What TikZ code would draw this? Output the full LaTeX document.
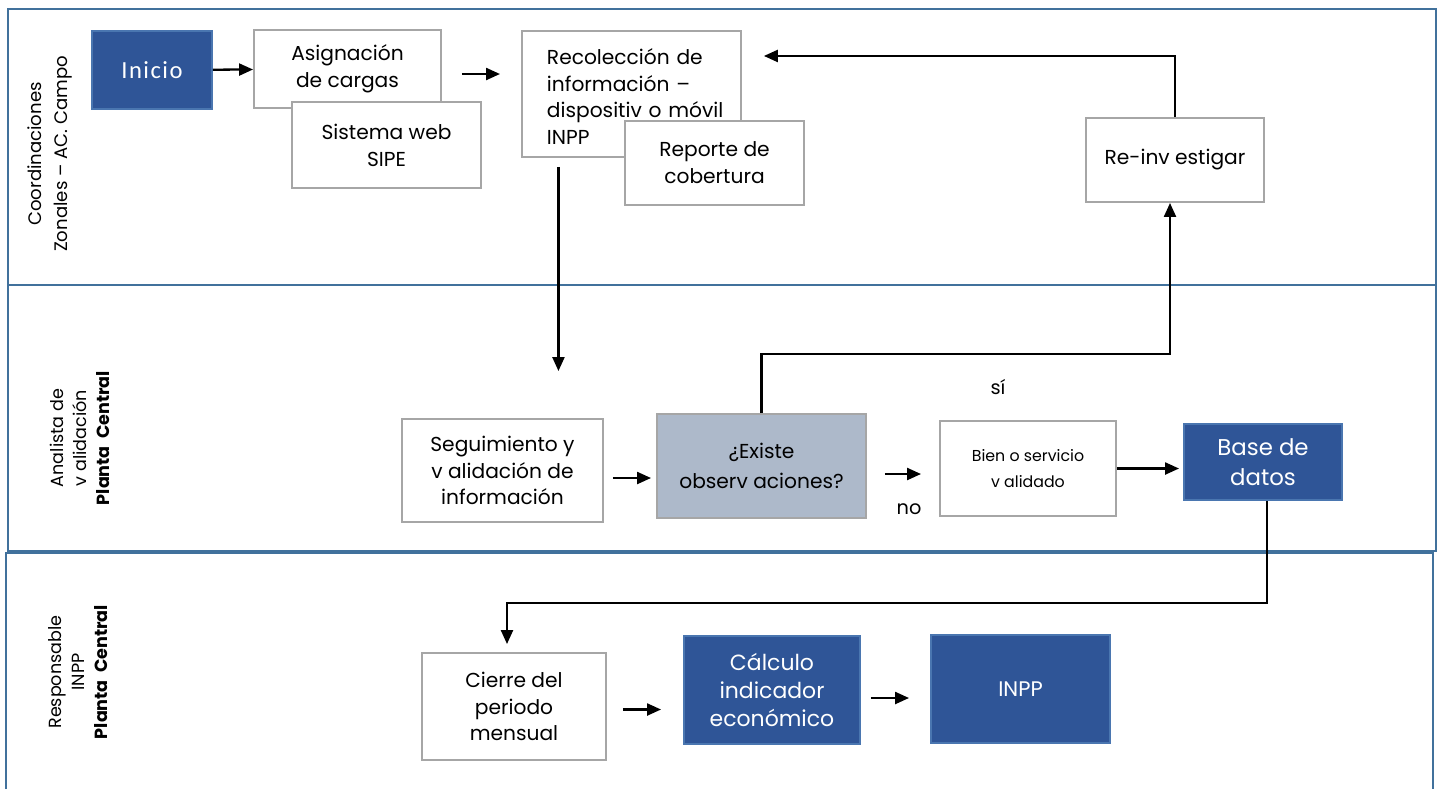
\documentclass[tikz,border=0pt]{standalone}
\usepackage{fontspec}
\setmainfont{Poppins}
\newfontfamily\inifont[LetterSpace=6]{Carlito}
\usetikzlibrary{arrows.meta}

\definecolor{lanec}{HTML}{41719C}
\definecolor{boxc}{HTML}{A6A6A6}
\definecolor{darkc}{HTML}{2F5597}
\definecolor{darkl}{HTML}{4A76B0}
\definecolor{askc}{HTML}{ADB9CA}

\tikzset{
  lane/.style={draw=lanec,line width=1.6pt},
  sz/.style 2 args={minimum width=#1*0.02cm,minimum height=#2*0.02cm},
  proc/.style={draw=boxc,fill=white,line width=1.1pt,align=center,inner sep=0pt,
    font=\fontsize{11.5}{15.3}\selectfont},
  dark/.style={proc,draw=darkl,fill=darkc,text=white},
  ask/.style={proc,fill=askc},
  lbl/.style={rotate=90,align=center,font=\fontsize{10.3}{14.5}\selectfont},
}

\begin{document}
\begin{tikzpicture}[x=0.02cm,y=-0.02cm,>={Triangle[length=0.28cm,width=0.24cm]},line width=1.3pt]
                \useasboundingbox (0,0) rectangle (1441,789);
                % carriles
                \draw[lane] (8,9) rectangle (1436,285);
                \draw[lane] (8,285) rectangle (1436,551);
                \draw[lane] (6,789) -- (6,553) -- (1433,553) -- (1433,789);
                \node[lbl](L1)at(50,154){Coordinaciones\\Zonales -- AC. Campo};
                \node[lbl,font=\fontsize{10}{13}\selectfont](L2)at(80,438){Analista de\\v alidación\\\textbf{Planta\ \ Central}};
                \node[lbl,font=\fontsize{10}{13}\selectfont](L3)at(78,672){Responsable\\INPP\\\textbf{Planta\ \ Central}};
                % carril 1
                \node[dark,sz={120}{78},font=\inifont\fontsize{14}{16}\selectfont](inicio)at(152,70){Inicio};
                \node[proc,sz={187}{78}](asig)at(347.5,69){Asignación\\de cargas};
                \node[proc,sz={189}{86}](sipe)at(386.5,145){Sistema web\\SIPE};
                \node[proc,sz={219}{126},align=left,anchor=north west,text width=4.1cm,inner sep=0pt,
                      minimum width=4.38cm](recol)at(521,30){\rule{0pt}{12pt}\hspace*{0.36cm}Recolección de\\\hspace*{0.36cm}información --\\\hspace*{0.36cm}dispositiv o móvil\\\hspace*{0.36cm}INPP};
                \node[proc,sz={179}{84}](reporte)at(714.5,163){Reporte de\\cobertura};
                \node[proc,sz={178}{84}](reinv)at(1175,160){Re-inv estigar};
                % carril 2
                \node[proc,sz={201}{103}](segui)at(502.5,470.5){Seguimiento y\\v alidación de\\información};
                \node[ask,sz={209}{104},font=\fontsize{11.5}{16.8}\selectfont](existe)at(761.5,466){¿Existe\\observ aciones?};
                \node[proc,sz={176}{95},font=\fontsize{9}{15.3}\selectfont](bien)at(1028,468.5){Bien o servicio\\v alidado};
                \node[dark,sz={158}{76},font=\fontsize{13}{16.8}\selectfont](base)at(1263,462){Base de\\datos};
                \node[font=\fontsize{11}{13}\selectfont](si)at(998,387){sí};
                \node[font=\fontsize{11}{13}\selectfont](no)at(909,509){no};
                % carril 3
                \node[proc,sz={184}{107}](cierre)at(514,706.5){Cierre del\\periodo\\mensual};
                \node[dark,sz={176}{108},font=\fontsize{12.5}{16}\selectfont](calc)at(772,690){Cálculo\\indicador\\económico};
                \node[dark,sz={179}{108},font=\fontsize{12}{16}\selectfont](inpp)at(1020.5,689){INPP};
                % flechas
                \draw[->](inicio) -- (asig);
                \draw[->,shorten <=0.4cm,shorten >=0.42cm]([yshift=-0.1cm]asig.east) -- ([yshift=-0.1cm]asig.east -| recol.west);
                \draw[->,shorten <=0.18cm,shorten >=0.94cm]([xshift=-1.46cm]recol.south) -- ([xshift=-1.46cm]recol.south |- segui.north);
                \draw[->,shorten >=0.44cm](reinv.north) |- ([yshift=0.76cm]recol.east);
                \draw[->,shorten <=0.18cm,shorten >=0.1cm]([yshift=-0.15cm]segui.east) -- ([yshift=-0.15cm]segui.east -| existe.west);
                \draw[->](existe.north) -- ++(0,-59) -| ([xshift=-0.1cm]reinv.south);
                \draw[->,shorten <=0.36cm,shorten >=0.36cm]([yshift=-0.16cm]existe.east) -- ([yshift=-0.16cm]existe.east -| bien.west);
                \draw[->,shorten >=0.08cm](bien.east) -- (bien.east -| base.west);
                \draw[->,shorten >=0.16cm]([xshift=0.08cm]base.south) -- ++(0,102) -| ([xshift=-0.14cm]cierre.north);
                \draw[->,shorten <=0.32cm,shorten >=0.44cm]([yshift=-0.06cm]cierre.east) -- ([yshift=-0.06cm]cierre.east -| calc.west);
                \draw[->,shorten <=0.2cm,shorten >=0.42cm]([yshift=-0.16cm]calc.east) -- ([yshift=-0.16cm]calc.east -| inpp.west);
            \end{tikzpicture}
\end{document}
